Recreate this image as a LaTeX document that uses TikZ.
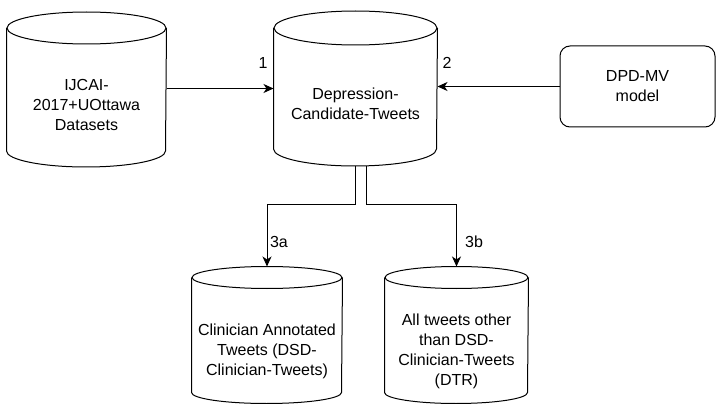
\documentclass[tikz,border=0pt]{standalone}
\usepackage{fontspec}
\setmainfont{Liberation Sans}
\usetikzlibrary{arrows.meta,positioning}
\begin{document}
\begin{tikzpicture}[x=1pt,y=-1pt,line width=1pt,font=\fontsize{16}{20}\selectfont]
    \tikzstyle{dbase}=[inner sep=0pt]
    \tikzstyle{txt}=[align=center,inner sep=0pt]
    \tikzstyle{marrs}=[-{Stealth[length=10pt,width=9pt,inset=3pt]}]

    \useasboundingbox (0,0) rectangle (716,404);

    \node[dbase,minimum width=159pt,minimum height=154pt] (data) at (86.5,89.5) {};
    \node[dbase,minimum width=163pt,minimum height=154pt] (cand) at (355.5,88.5) {};
    \node[dbase,minimum width=150pt,minimum height=136pt] (clin) at (267,335) {};
    \node[dbase,minimum width=143pt,minimum height=136pt] (dtr) at (456.5,335) {};
    \node[draw,rounded corners=10pt,minimum width=155pt,minimum height=81pt,txt] (dpd) at (637.5,86.5) {DPD-MV\\model};

    \foreach \n/\r/\h in {data/79.5pt/16pt, cand/81.5pt/17pt, clin/75pt/11pt, dtr/71.5pt/11pt} {
        \draw ([yshift=-\h]\n.north) ellipse [x radius=\r, y radius=\h];
        \draw ([yshift=-\h]\n.north west) -- ([yshift=\h]\n.south west)
            arc [start angle=180, end angle=360, x radius=\r, y radius=\h]
            -- ([yshift=-\h]\n.north east);
    }

    \node[txt] (data-txt) at ([yshift=-15pt]data.center) {IJCAI-\\2017+UOttawa\\Datasets};
    \node[txt] (cand-txt) at ([yshift=-15pt]cand.center) {Depression-\\Candidate-Tweets};
    \node[txt] (clin-txt) at ([yshift=-16pt]clin.center) {Clinician Annotated\\Tweets (DSD-\\Clinician-Tweets)};
    \node[txt] (dtr-txt) at ([yshift=-16pt]dtr.center) {All tweets other\\than DSD-\\Clinician-Tweets\\(DTR)};

    \draw[marrs] (data.east |- cand.west) -- (cand.west);
    \draw[marrs] (dpd.west) -- (dpd.west -| cand.east);
    \draw[marrs] (cand.south) -- ++(0,38) -| (clin.north);
    \draw[marrs] ([xshift=11pt]cand.south) -- ++(0,38) -| (dtr.north);

    \node[txt] (lab1) at (263,63) {1};
    \node[txt] (lab2) at (447,63) {2};
    \node[txt] (lab3a) at (279,242) {3a};
    \node[txt] (lab3b) at (474,242) {3b};
\end{tikzpicture}
\end{document}
